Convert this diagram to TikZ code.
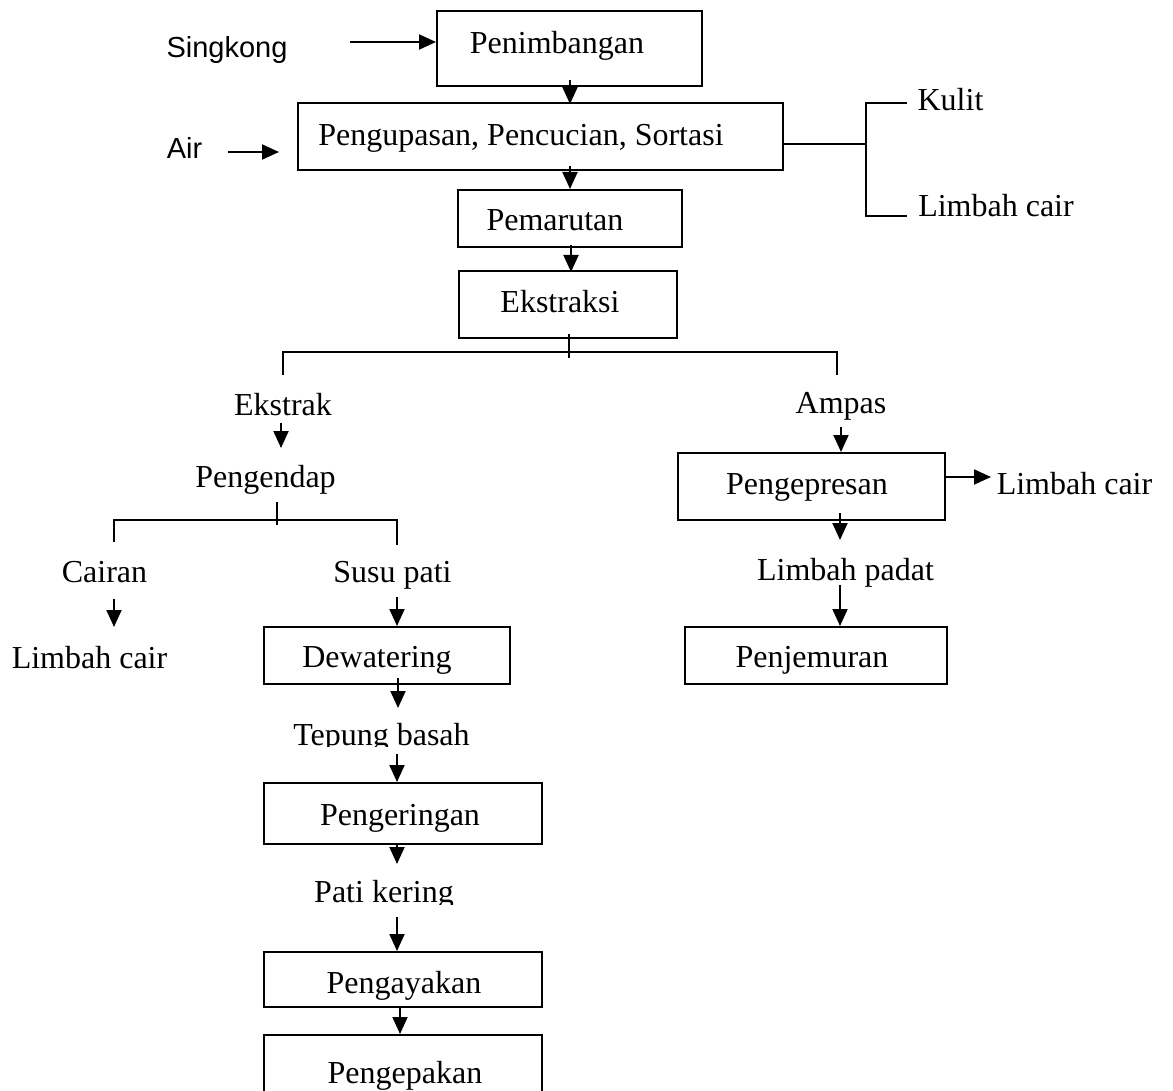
\documentclass[tikz,border=0pt]{standalone}
\usepackage{fontspec}
\setmainfont{Liberation Serif}
\newfontfamily\arialf{Liberation Sans}
\usetikzlibrary{arrows.meta,calc}
\begin{document}
\begin{tikzpicture}[x=1pt,y=-1pt,
  box/.style={draw, line width=2pt, inner sep=0pt},
  lbl/.style={font=\fontsize{32}{38}\selectfont, inner sep=0pt, anchor=base},
  albl/.style={font=\arialf\fontsize{29}{35}\selectfont, inner sep=0pt, anchor=base},
  arr/.style={line width=2pt, -{Triangle[length=17pt,width=15pt]}},
  ln/.style={line width=2pt}]
\useasboundingbox (0,0) rectangle (1173,1091);
\fill[white] (0,0) rectangle (1173,1091);

% boxes
\node[box,minimum width=265pt,minimum height=75pt] (pen)  at (569.5,48.5) {};
\node[box,minimum width=485pt,minimum height=67pt] (kup)  at (540.5,136.5) {};
\node[box,minimum width=224pt,minimum height=57pt] (mar)  at (570,218.5) {};
\node[box,minimum width=218pt,minimum height=67pt] (eks)  at (568,304.5) {};
\node[box,minimum width=267pt,minimum height=67pt] (pres) at (811.5,486.5) {};
\node[box,minimum width=262pt,minimum height=57pt] (jem)  at (816,655.5) {};
\node[box,minimum width=246pt,minimum height=57pt] (dew)  at (387,655.5) {};
\node[box,minimum width=278pt,minimum height=61pt] (ker)  at (403,813.5) {};
\node[box,minimum width=278pt,minimum height=55pt] (ayak) at (403,979.5) {};
\node[box,minimum width=278pt,minimum height=65pt] (pak)  at (403,1067.5) {};

% box texts
\node[lbl] (tpen)  at (557,54)  {Penimbangan};
\node[lbl] (tkup)  at (521,146) {Pengupasan, Pencucian, Sortasi};
\node[lbl] (tmar)  at (555,231) {Pemarutan};
\node[lbl] (teks)  at (560,313) {Ekstraksi};
\node[lbl] (tpres) at (807,494) {Pengepresan};
\node[lbl] (tjem)  at (812,667) {Penjemuran};
\node[lbl] (tdew)  at (377,667) {Dewatering};
\node[lbl] (tker)  at (400,825) {Pengeringan};
\node[lbl] (tayak) at (404,993) {Pengayakan};
\node[lbl] (tpak)  at (405,1083) {Pengepakan};

% free texts
\node[albl] (singkong) at (227,58)  {Singkong};
\node[albl] (air)      at (184.5,159) {Air};
\node[lbl] (kulit)   at (950.5,111) {Kulit};
\node[lbl] (lc1)     at (996,217)   {Limbah cair};
\node[lbl] (ekstrak) at (283,415)   {Ekstrak};
\node[lbl] (ampas)   at (841,413)   {Ampas};
\node[lbl] (endap)   at (265.5,487) {Pengendap};
\node[lbl] (cairan)  at (104.5,582) {Cairan};
\node[lbl] (lc2)     at (89.5,668)  {Limbah cair};
\node[lbl] (susu)    at (392.5,582) {Susu pati};
\node[lbl] (lc3)     at (1074.5,494) {Limbah cair};
\node[lbl] (padat)   at (845.5,580) {Limbah padat};
\node[lbl] (tepung)  at (381.5,745) {Tepung basah};
\node[lbl] (pati)    at (384,902)   {Pati kering};
% clipped descenders
\fill[white] (285,747) rectangle (480,754);
\fill[white] (305,905) rectangle (470,915);

% inputs
\coordinate (s0) at (350,42);
\draw[arr] (s0) -- (pen.west |- s0);
\coordinate (a0) at (228,152);
\coordinate (a1) at (279,152);
\draw[arr] (a0) -- (a1);

% main chain
\draw[arr] ($(pen.south)+(0.5pt,7pt)$) -- ($(pen.south)+(0.5pt,-17pt)$);
\draw[arr] ($(mar.north)+(0,23pt)$) -- (mar.north);
\draw[arr] ($(mar.south)+(1pt,3pt)$) -- ($(mar.south)+(1pt,-24pt)$);

% kulit / limbah cair bracket
\coordinate (bk) at (866,144);
\draw[ln] ($(kup.east)+(0,-7.5pt)$) -- (bk);
\draw[ln] ($(kulit.base)+(-43.5pt,8pt)$) -| (bk) |- ($(lc1.base)+(-89pt,1pt)$);

% ekstraksi split
\coordinate (el) at (283,375);
\coordinate (er) at (837,375);
\draw[ln] ($(eks.south)+(1pt,5pt)$) -- ($(eks.south)+(1pt,-19pt)$);
\draw[ln] (el) -- (283,352) -- (837,352) -- (er);

% extract branch
\draw[arr] ($(ekstrak.base)+(-2pt,-8pt)$) -- ($(ekstrak.base)+(-2pt,-33pt)$);
\coordinate (pl) at (114,542);
\coordinate (pr) at (397,545);
\draw[ln] ($(endap.base)+(11.5pt,-15pt)$) -- ($(endap.base)+(11.5pt,-38pt)$);
\draw[ln] (pl) -- (114,520) -- (397,520) -- (pr);
\draw[arr] ($(cairan.base)+(9.5pt,-17pt)$) -- ($(cairan.base)+(9.5pt,-45pt)$);
\draw[arr] ($(dew.north)+(10pt,29pt)$) -- ($(dew.north)+(10pt,0)$);
\draw[arr] ($(dew.south)+(11pt,7pt)$) -- ($(dew.south)+(11pt,-23pt)$);
\draw[arr] ($(ker.north)+(-6pt,28pt)$) -- ($(ker.north)+(-6pt,0)$);
\draw[arr] ($(ker.south)+(-6pt,0)$) -- ($(ker.south)+(-6pt,-19pt)$);
\draw[arr] ($(ayak.north)+(-6pt,34pt)$) -- ($(ayak.north)+(-6pt,0)$);
\draw[arr] ($(pak.north)+(-3pt,28pt)$) -- ($(pak.north)+(-3pt,0)$);

% ampas branch
\draw[arr] ($(pres.north)+(29.5pt,25pt)$) -- ($(pres.north)+(29.5pt,0)$);
\draw[arr] ($(pres.east)+(0,9.5pt)$) -- ($(pres.east)+(45pt,9.5pt)$);
\draw[arr] ($(pres.south)+(28.5pt,8pt)$) -- ($(pres.south)+(28.5pt,-19pt)$);
\draw[arr] ($(jem.north)+(24pt,41pt)$) -- ($(jem.north)+(24pt,0)$);
\end{tikzpicture}
\end{document}
